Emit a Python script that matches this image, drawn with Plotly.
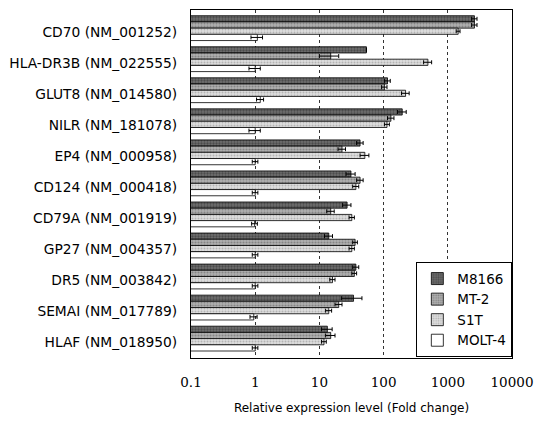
import plotly.graph_objects as go

categories = ["CD70 (NM_001252)", "HLA-DR3B (NM_022555)", "GLUT8 (NM_014580)",
              "NILR (NM_181078)", "EP4 (NM_000958)", "CD124 (NM_000418)",
              "CD79A (NM_001919)", "GP27 (NM_004357)", "DR5 (NM_003842)",
              "SEMAI (NM_017789)", "HLAF (NM_018950)"]

m8166 = [2600, 54, 115, 195, 43, 31, 27, 14, 37, 34, 13.3]
m8166_err = [250, 0, 12, 30, 5, 5, 4, 2, 4, 12, 2.5]
mt2 = [2600, 15, 103, 130, 22.5, 43, 15, 36, 35, 20, 15]
mt2_err = [250, 5, 10, 15, 3, 5, 2, 3, 3, 2.5, 2.5]
s1t = [1450, 490, 220, 113, 51, 37, 32, 32, 16, 14, 11.8]
s1t_err = [100, 70, 30, 10, 8, 4, 3, 3, 1.5, 1.5, 1]
molt4 = [1.08, 1.0, 1.2, 1.0, 1.0, 1.0, 0.98, 1.0, 1.0, 0.95, 1.0]
molt4_err = [0.22, 0.2, 0.15, 0.2, 0.1, 0.1, 0.1, 0.1, 0.1, 0.12, 0.1]

series = ["M8166", "MT-2", "S1T", "MOLT-4"]
xticks = [0.1, 1, 10, 100, 1000, 10000]
xticktext = ["0.1", "1", "10", "100", "1000", "10000"]

ypos = list(range(len(categories)))

styles = [
    dict(bg="#6e6e6e", fg="#2a2a2a", shape=".", size=3, solidity=0.45),
    dict(bg="#b0b0b0", fg="#5a5a5a", shape=".", size=3, solidity=0.4),
    dict(bg="#dedede", fg="#8a8a8a", shape=".", size=3, solidity=0.35),
    dict(bg="#ffffff", fg="#ffffff", shape="", size=3, solidity=0.3),
]

fig = go.Figure()
for name, vals, errs, st in zip(series, [m8166, mt2, s1t, molt4],
                                [m8166_err, mt2_err, s1t_err, molt4_err], styles):
    fig.add_trace(go.Bar(
        name=name, x=vals, y=ypos, orientation="h",
        marker=dict(color=st["bg"], line=dict(color="#000000", width=0.8),
                    pattern=dict(shape=st["shape"], fgcolor=st["fg"], bgcolor=st["bg"],
                                 size=st["size"], solidity=st["solidity"])),
        error_x=dict(type="data", array=errs, visible=True, color="#000000",
                     thickness=1, width=2),
    ))

fig.update_layout(
    width=542, height=424,
    margin=dict(l=189, r=24, t=9, b=66),
    paper_bgcolor="white", plot_bgcolor="white",
    barmode="group", bargap=0.2, bargroupgap=0,
    font=dict(family="DejaVu Sans", color="#000000"),
    showlegend=True,
    legend=dict(x=0.702, y=0.275, xanchor="left", yanchor="top",
                bgcolor="white", bordercolor="#000000", borderwidth=1,
                font=dict(size=13.5, family="DejaVu Sans"), traceorder="normal",
                itemwidth=30, tracegroupgap=0),
    xaxis=dict(type="log", range=[-1, 4], tickvals=xticks, ticktext=xticktext,
               showgrid=True, gridcolor="#333333", griddash="dot", gridwidth=1,
               showline=True, linecolor="#000000", linewidth=1, mirror=True,
               ticks="", tickfont=dict(size=13.5, family="DejaVu Serif"),
               ticklabelstandoff=12,
               title=dict(text="Relative expression level (Fold change)",
                          font=dict(size=12, family="DejaVu Sans"), standoff=14),
               zeroline=False),
    yaxis=dict(range=[10.625, -0.584], tickvals=[p + 0.13 for p in ypos],
               ticktext=categories, showgrid=False, zeroline=False,
               showline=True, linecolor="#000000", linewidth=1, mirror=True,
               ticks="", tickfont=dict(size=13.8, family="DejaVu Sans"),
               ticklabelstandoff=10),
)

fig.write_html("out.html")
